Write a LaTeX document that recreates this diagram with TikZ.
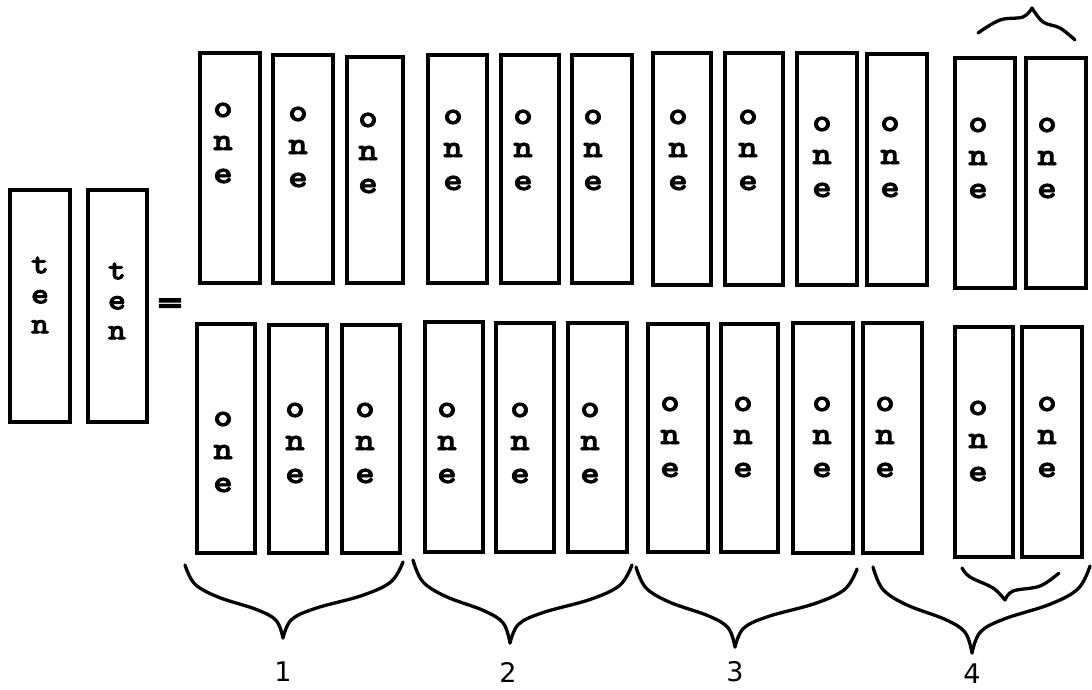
\documentclass[tikz,border=0pt]{standalone}
\usepackage{fontspec}
\usepackage{graphicx}
\newfontfamily\dvs{DejaVu Sans}
\newfontfamily\eqf[FakeBold=6]{DejaVu Sans Bold}
\newfontfamily\typb[FakeBold=2.5,FakeStretch=1.15]{lmmonolt10-bold.otf}
\begin{document}
\begin{tikzpicture}[x=1pt,y=-1pt,
  bx/.style={draw, line width=3.3pt, inner sep=0pt},
  lt/.style={font=\fontsize{32}{33}\selectfont\typb, align=center, inner sep=0pt},
  tt/.style={font=\fontsize{30}{30}\selectfont\typb, align=center, inner sep=0pt},
  brc/.style={line width=3.3pt, line cap=round, line join=round},
  num/.style={font=\fontsize{27}{27}\selectfont\dvs, inner sep=0pt}]
\useasboundingbox (0,0) rectangle (1092,689);
% box: name, x0,y0,x1,y1
\newcommand\obox[5]{\node[bx, minimum width={#4-#2}, minimum height={#5-#3}] (#1) at ({(#2+#4)/2},{(#3+#5)/2}) {};}
% side of a brace from tip (#1,#2) to end (#3,#4)
\newcommand\bside[4]{\draw[brc] plot[smooth, tension=0.6] coordinates {(#1,#2) ({#1+0.07*(#3-#1)},{#2+0.24*(#4-#2)}) ({#1+0.27*(#3-#1)},{#2+0.39*(#4-#2)}) ({#1+0.66*(#3-#1)},{#2+0.56*(#4-#2)}) ({#1+0.9*(#3-#1)},{#2+0.74*(#4-#2)}) (#3,#4)};}
% ten boxes
\obox{n1}{10}{190}{70}{422}
\obox{n2}{88}{190}{147}{422}
\node[tt] (n1t) at (40,295) {t\\e\\n};
\node[tt] (n2t) at (117,301) {t\\e\\n};
\node (eq) at (170,305) {\scalebox{0.95}[0.75]{\fontsize{34}{34}\selectfont\eqf =}};
% top row
\obox{a1}{200}{53}{260}{283}   \node[lt] (a1t) at (223,143) {o\\n\\e};
\obox{a2}{273}{55}{333}{283}   \node[lt] (a2t) at (298,147) {o\\n\\e};
\obox{a3}{347}{57}{403}{283}   \node[lt] (a3t) at (368,153) {o\\n\\e};
\obox{a4}{428}{55}{487}{283}   \node[lt] (a4t) at (453,150) {o\\n\\e};
\obox{a5}{501}{55}{559}{283}   \node[lt] (a5t) at (523,150) {o\\n\\e};
\obox{a6}{572}{55}{632}{283}   \node[lt] (a6t) at (593,150) {o\\n\\e};
\obox{a7}{653}{53}{711}{285}   \node[lt] (a7t) at (678,150) {o\\n\\e};
\obox{a8}{725}{53}{783}{285}   \node[lt] (a8t) at (748,150) {o\\n\\e};
\obox{a9}{797}{53}{857}{285}   \node[lt] (a9t) at (822,157) {o\\n\\e};
\obox{a10}{867}{54}{927}{285}  \node[lt] (a10t) at (890,157) {o\\n\\e};
\obox{a11}{955}{58}{1015}{288} \node[lt] (a11t) at (978,158) {o\\n\\e};
\obox{a12}{1026}{58}{1086}{288}\node[lt] (a12t) at (1047,158) {o\\n\\e};
% bottom row
\obox{b1}{197}{324}{255}{553}  \node[lt] (b1t) at (223,452) {o\\n\\e};
\obox{b2}{269}{325}{327}{553}  \node[lt] (b2t) at (295,443) {o\\n\\e};
\obox{b3}{342}{325}{400}{553}  \node[lt] (b3t) at (365,443) {o\\n\\e};
\obox{b4}{425}{322}{483}{552}  \node[lt] (b4t) at (447,443) {o\\n\\e};
\obox{b5}{496}{323}{554}{552}  \node[lt] (b5t) at (520,443) {o\\n\\e};
\obox{b6}{568}{323}{627}{552}  \node[lt] (b6t) at (590,443) {o\\n\\e};
\obox{b7}{648}{324}{708}{552}  \node[lt] (b7t) at (670,437) {o\\n\\e};
\obox{b8}{721}{324}{778}{552}  \node[lt] (b8t) at (743,437) {o\\n\\e};
\obox{b9}{793}{323}{853}{553}  \node[lt] (b9t) at (822,437) {o\\n\\e};
\obox{b10}{863}{323}{922}{553} \node[lt] (b10t) at (885,437) {o\\n\\e};
\obox{b11}{955}{327}{1013}{557}\node[lt] (b11t) at (978,441) {o\\n\\e};
\obox{b12}{1022}{327}{1082}{557}\node[lt] (b12t) at (1047,437) {o\\n\\e};
% braces below
\bside{283}{638}{185}{565} \bside{283}{638}{403}{562}
\bside{510}{643}{413}{560} \bside{510}{643}{632}{565}
\bside{735}{647}{636}{567} \bside{735}{647}{857}{569}
\bside{972}{653}{873}{567} \bside{972}{653}{1090}{566}
% small brace under last two
\draw[brc] plot[smooth, tension=0.6] coordinates {(962,568) (970,577) (993,588) (1005,600)};
\draw[brc] plot[smooth, tension=0.6] coordinates {(1005,600) (1013,591) (1040,586) (1059,573)};
% top brace over last two
\draw[brc] plot[smooth, tension=0.6] coordinates {(978,33) (1000,20) (1023,17) (1032,8)};
\draw[brc] plot[smooth, tension=0.6] coordinates {(1032,8) (1043,22) (1060,28) (1075,40)};
% labels
\node[num] (l1) at (283,672) {1};
\node[num] (l2) at (508,672) {2};
\node[num] (l3) at (735,672) {3};
\node[num] (l4) at (972,674) {4};
\end{tikzpicture}
\end{document}
